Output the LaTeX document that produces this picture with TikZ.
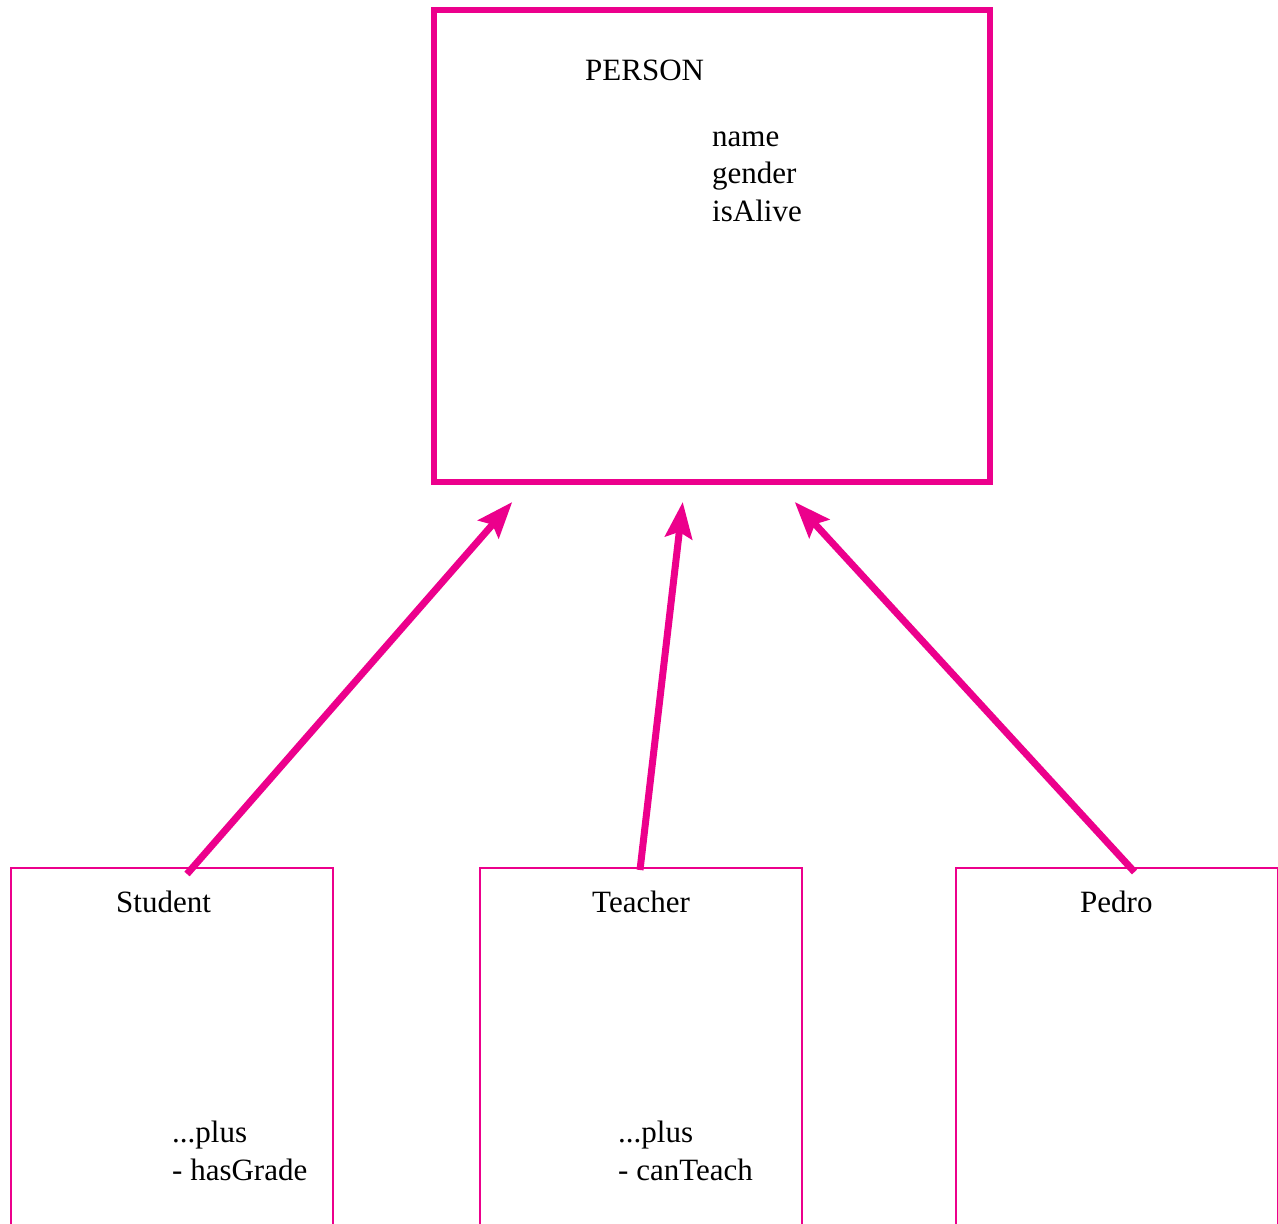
\documentclass[tikz,border=0pt]{standalone}
\usepackage{fontspec}
\setmainfont{Liberation Serif}
\usetikzlibrary{arrows.meta}
\definecolor{mag}{HTML}{EC008C}
\tikzset{
  bigbox/.style={draw=mag, line width=6pt, inner sep=0pt, outer sep=0pt, anchor=north west, minimum width=556.5pt, minimum height=472pt},
  smallbox/.style={draw=mag, line width=2pt, inner sep=0pt, outer sep=0pt, anchor=north west, minimum width=322pt, minimum height=420pt},
  txt/.style={anchor=base west, inner sep=0pt, font=\fontsize{31}{37}\selectfont, text=black},
  arr/.style={draw=mag, line width=7pt, -{Stealth[length=36pt, width=27pt, inset=6pt]}}
}
\begin{document}
\begin{tikzpicture}[x=1pt, y=-1pt]
\useasboundingbox (0,0) rectangle (1278,1224);
\clip (0,0) rectangle (1278,1224);
\fill[white] (0,0) rectangle (1278,1224);
\node[bigbox] (person) at (433.5,10) {};
\node[smallbox] (student) at (11,868) {};
\node[smallbox] (teacher) at (480,868) {};
\node[smallbox] (pedro) at (955.5,868) {};
\node[txt] (tperson) at (585,80) {PERSON};
\node[txt] (tname) at (712,146) {name};
\node[txt] (tgender) at (712,183.5) {gender};
\node[txt] (talive) at (712,221) {isAlive};
\node[txt] (tstudent) at (116,912) {Student};
\node[txt] (tteacher) at (592,912) {Teacher};
\node[txt] (tpedro) at (1080,912) {Pedro};
\node[txt] (splus) at (172,1142) {...plus};
\node[txt] (sgrade) at (172,1180) {- hasGrade};
\node[txt] (tplus) at (618,1142) {...plus};
\node[txt] (tteach) at (618,1180) {- canTeach};
\draw[arr] ([xshift=15pt, yshift=-6pt]student.north) -- ([xshift=-199.5pt, yshift=-20pt]person.south);
\draw[arr] ([xshift=-1pt, yshift=-2pt]teacher.north) -- ([xshift=-29pt, yshift=-20pt]person.south);
\draw[arr] ([xshift=18pt, yshift=-4pt]pedro.north) -- ([xshift=83pt, yshift=-20pt]person.south);
\end{tikzpicture}
\end{document}
